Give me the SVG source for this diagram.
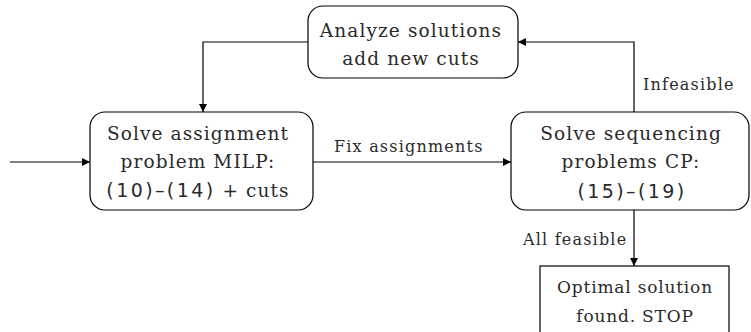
<svg xmlns="http://www.w3.org/2000/svg" width="751" height="332" viewBox="0 0 751 332">
  <style>
    .box { fill: #ffffff; stroke: #000000; stroke-width: 1.2; }
    .edge { fill: none; stroke: #000000; stroke-width: 1.2; }
    .t { font-family: "DejaVu Serif", "Liberation Serif", serif; font-size: 18.5px; letter-spacing: 1.1px; fill: #2a2a2a; text-anchor: middle; }
    .t2 { font-family: "DejaVu Serif", "Liberation Serif", serif; font-size: 17px; letter-spacing: 0.8px; fill: #2a2a2a; text-anchor: middle; }
    .num { font-family: "DejaVu Sans", "Liberation Sans", sans-serif; font-size: 19px; letter-spacing: 2.4px; }
    .lbl { font-family: "DejaVu Serif", "Liberation Serif", serif; font-size: 16px; letter-spacing: 1.2px; fill: #2a2a2a; }
  </style>
  <defs>
    <marker id="arrow" viewBox="0 0 10 10" refX="10" refY="5" markerWidth="8" markerHeight="8" markerUnits="userSpaceOnUse" orient="auto">
      <path d="M0,0 L10,5 L0,10 z" fill="#000000"/>
    </marker>
  </defs>

  <g id="connectors">
    <path class="edge" d="M10,162 H90" marker-end="url(#arrow)"/>
    <path class="edge" d="M308,42 H203 V112" marker-end="url(#arrow)"/>
    <path class="edge" d="M313,162 H511" marker-end="url(#arrow)"/>
    <path class="edge" d="M634,112 V42 H518" marker-end="url(#arrow)"/>
    <path class="edge" d="M634,210 V266" marker-end="url(#arrow)"/>
    <text class="lbl" x="334" y="152">Fix assignments</text>
    <text class="lbl" x="643" y="90">Infeasible</text>
    <text class="lbl" x="523" y="245">All feasible</text>
  </g>

  <g id="analyze">
    <rect class="box" x="308" y="6" width="210" height="72" rx="15"/>
    <text class="t" x="411" y="37">Analyze solutions</text>
    <text class="t" x="411" y="65">add new cuts</text>
  </g>

  <g id="assignment">
    <rect class="box" x="90" y="112" width="223" height="98" rx="15"/>
    <text class="t" x="198" y="140">Solve assignment</text>
    <text class="t" x="198" y="168">problem MILP:</text>
    <text class="t" x="198" y="197"><tspan class="num">(10)–(14)</tspan> + cuts</text>
  </g>

  <g id="sequencing">
    <rect class="box" x="511" y="112" width="238" height="98" rx="15"/>
    <text class="t" x="631" y="140">Solve sequencing</text>
    <text class="t" x="631" y="168">problems CP:</text>
    <text class="t" x="632" y="198"><tspan class="num">(15)–(19)</tspan></text>
  </g>

  <g id="stop">
    <rect class="box" x="540" y="266" width="189" height="80"/>
    <text class="t2" x="635" y="293">Optimal solution</text>
    <text class="t2" x="635" y="322">found. STOP</text>
  </g>
</svg>
